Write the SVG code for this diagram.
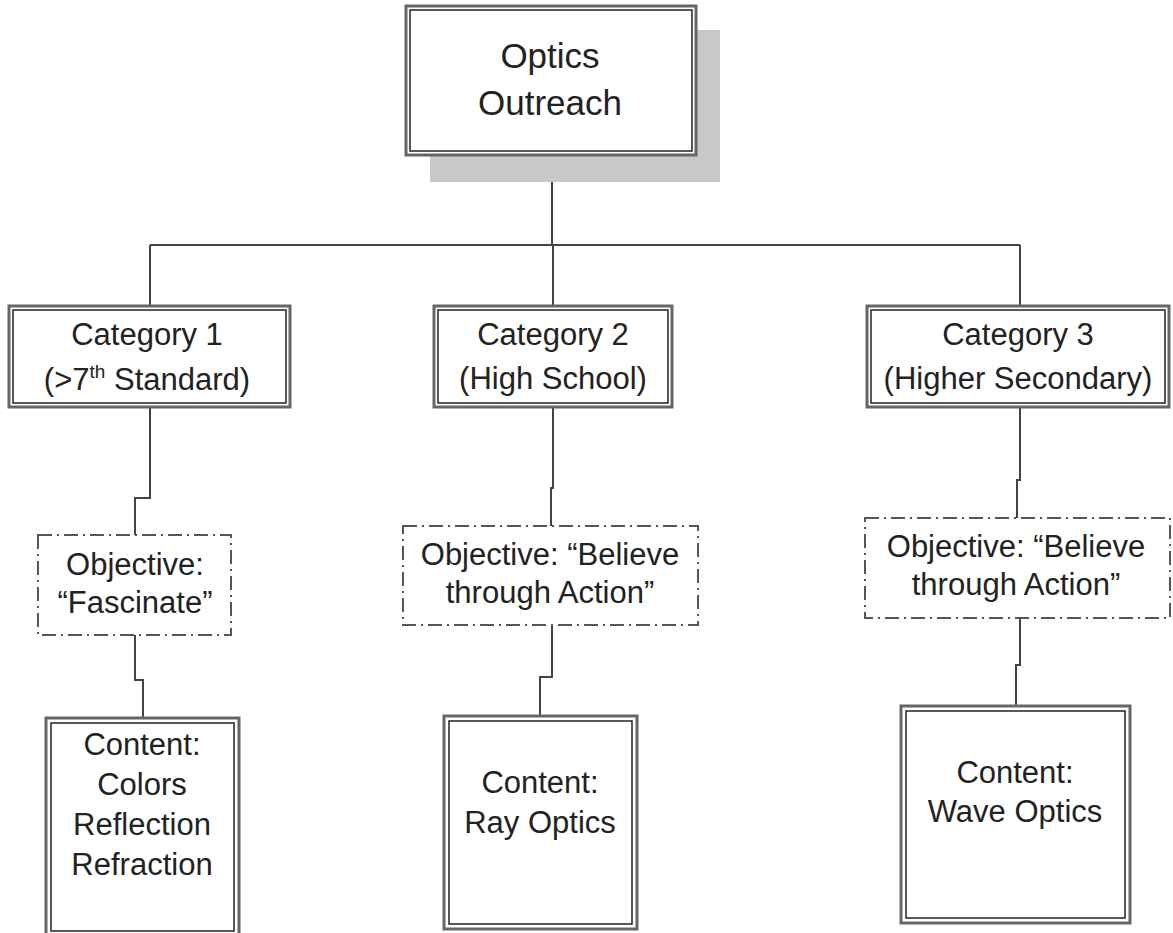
<svg xmlns="http://www.w3.org/2000/svg" width="1173" height="933" viewBox="0 0 1173 933">
<style>
.t{font-family:"Liberation Sans",Arial,sans-serif;font-size:31px;fill:#222;text-anchor:middle}
.big{font-size:35px}
.o{fill:#fff;stroke:#666;stroke-width:3}
.i{fill:none;stroke:#222;stroke-width:1.5}
.obj{fill:#fff;stroke:#555;stroke-width:2;stroke-dasharray:14 5 2 5}
.c{fill:none;stroke:#444;stroke-width:2}
</style>
<rect width="1173" height="933" fill="#fff"/>
<g id="connectors">
<path class="c" d="M552 155V245M150 245H1020M150 245V305M553 245V305M1020 245V305"/>
<path class="c" d="M150 407V498H135V535M135 635V680H143V717"/>
<path class="c" d="M553 407V488H551V526M552 625V677H540V715"/>
<path class="c" d="M1020 407V480H1017V518M1020 618V665H1016V705"/>
</g>
<g id="root">
<rect x="430" y="30" width="290" height="152" fill="#c8c8c8"/>
<rect class="o" x="406" y="6" width="290" height="149"/>
<rect class="i" x="410" y="10" width="282" height="141"/>
<text class="t big" x="550" y="68">Optics</text>
<text class="t big" x="550" y="115">Outreach</text>
</g>
<g id="cat1">
<rect class="o" x="9" y="306" width="281" height="101"/>
<rect class="i" x="13" y="310" width="273" height="93"/>
<text class="t" x="147" y="345">Category 1</text>
<text class="t" x="147" y="390">(&gt;7<tspan font-size="19" dy="-12">th</tspan><tspan dy="12"> Standard)</tspan></text>
</g>
<g id="cat2">
<rect class="o" x="434" y="306" width="238" height="101"/>
<rect class="i" x="438" y="310" width="230" height="93"/>
<text class="t" x="553" y="345">Category 2</text>
<text class="t" x="553" y="389">(High School)</text>
</g>
<g id="cat3">
<rect class="o" x="867" y="306" width="302" height="101"/>
<rect class="i" x="871" y="310" width="294" height="93"/>
<text class="t" x="1018" y="345">Category 3</text>
<text class="t" x="1018" y="389">(Higher Secondary)</text>
</g>
<g id="obj1">
<rect class="obj" x="38" y="535" width="193" height="100"/>
<text class="t" x="135" y="575">Objective:</text>
<text class="t" x="135" y="613">“Fascinate”</text>
</g>
<g id="obj2">
<rect class="obj" x="403" y="526" width="295" height="99"/>
<text class="t" x="550" y="565">Objective: “Believe</text>
<text class="t" x="550" y="603">through Action”</text>
</g>
<g id="obj3">
<rect class="obj" x="865" y="518" width="305" height="100"/>
<text class="t" x="1016" y="557">Objective: “Believe</text>
<text class="t" x="1016" y="595">through Action”</text>
</g>
<g id="content1">
<rect class="o" x="46" y="718" width="193" height="220"/>
<rect class="i" x="51" y="723" width="183" height="208"/>
<text class="t" x="142" y="755">Content:</text>
<text class="t" x="142" y="795">Colors</text>
<text class="t" x="142" y="835">Reflection</text>
<text class="t" x="142" y="875">Refraction</text>
</g>
<g id="content2">
<rect class="o" x="444" y="716" width="193" height="213"/>
<rect class="i" x="449" y="721" width="183" height="203"/>
<text class="t" x="540" y="793">Content:</text>
<text class="t" x="540" y="833">Ray Optics</text>
</g>
<g id="content3">
<rect class="o" x="901" y="706" width="229" height="217"/>
<rect class="i" x="906" y="711" width="219" height="207"/>
<text class="t" x="1015" y="783">Content:</text>
<text class="t" x="1015" y="822">Wave Optics</text>
</g>
</svg>
